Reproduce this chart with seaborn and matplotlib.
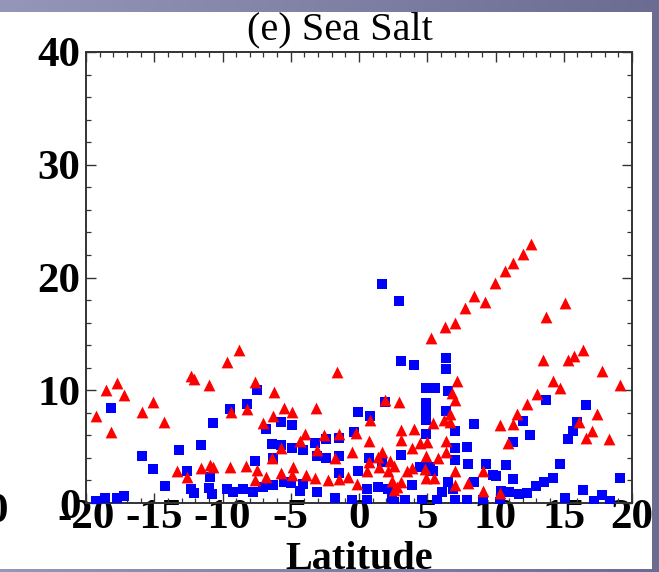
import numpy as np
import matplotlib
matplotlib.use("Agg")
import matplotlib.pyplot as plt
from matplotlib.patches import Rectangle
from matplotlib.ticker import MultipleLocator
import pandas as pd
import seaborn as sns

# red triangles (latitude, value)
tri_lat = [-19.3, -18.55, -17.7, -17.2, -18.2, -15.9, -15.1, -14.3, -12.3, -12.1, -11.0,
           -13.3, -12.6, -11.6, -10.9, -10.7,
           -8.8, -9.65, -7.6, -6.2, -1.6, -9.4, -8.2, -5.5, -4.9, -3.15, -7.0, -6.3,
           -3.95, -4.3, -2.6, -1.5, -0.2, -5.7, -3.05, -1.75, -0.5, -6.4, -9.45, -8.3,
           -7.45, -7.6, -6.8, -5.7, -4.85, -4.9, -3.9, -3.2, -2.3, -1.5, -0.8, -0.15,
           7.2, 6.8, 7.0, 1.9, 2.9, 0.8, 0.7, 3.1, 4.0, 5.4, 6.25, 6.7, 6.7, 3.1, 3.9,
           4.5, 5.0, 6.35, 6.35, 4.9, 5.8, 1.65, 1.4, 0.7, 0.6, 1.45, 2.3, 2.6, 2.15,
           3.55, 3.9, 4.8, 4.9, 5.5, 7.0, 9.1, 2.4, 3.1, 2.75, 2.6, 7.0, 8.0, 9.1,
           12.6, 12.0, 11.26, 10.7, 9.96, 8.4, 9.2, 7.8, 7.05, 6.3, 5.3, 13.7, 15.1,
           13.45, 15.3, 15.75, 16.4, 17.8, 19.1, 14.2, 14.7, 13.05, 12.3, 11.6, 11.3,
           10.3, 10.9, 17.4, 16.1, 17.05, 16.6, 18.3, 10.3]
tri_val = [7.7, 10.0, 10.6, 9.6, 6.3, 8.1, 9.0, 7.2, 11.3, 11.0, 10.5,
           2.8, 2.3, 3.1, 3.4, 3.2,
           13.6, 12.5, 10.7, 9.85, 11.6, 8.1, 8.3, 8.4, 8.1, 8.4, 7.1, 7.7,
           6.1, 5.5, 6.0, 6.1, 6.2, 4.9, 4.7, 4.0, 4.5, 4.0, 3.2, 3.3,
           2.9, 2.05, 2.35, 2.7, 3.15, 2.5, 2.5, 2.25, 2.05, 2.15, 2.35, 1.7,
           10.8, 9.8, 9.1, 9.1, 9.0, 7.4, 5.5, 6.5, 6.6, 7.1, 7.4, 7.2, 7.9, 5.6, 4.9,
           5.3, 5.4, 5.5, 4.5, 4.2, 4.0, 4.5, 4.1, 3.6, 2.85, 3.15, 3.75, 3.3, 2.8,
           2.8, 3.1, 3.0, 2.25, 2.25, 2.85, 2.8, 1.96, 1.9, 1.45, 1.16, 1.6, 1.76, 1.1,
           23.0, 22.05, 21.3, 20.6, 19.5, 18.4, 17.8, 17.3, 16.0, 15.6, 14.6, 16.5, 17.7,
           12.7, 12.7, 13.0, 13.6, 11.7, 10.5, 10.8, 10.2, 9.7, 8.75, 7.9, 7.0,
           6.9, 5.3, 7.9, 7.2, 6.4, 5.8, 5.7, 0.9]

# blue squares (latitude, value)
sq_lat = [-18.2, -19.3, -18.6, -17.7, -17.2, -15.9, -15.1, -14.2, -13.2, -12.6, -12.3,
          -12.1, -11.6, -10.7, -10.9, -11.0, -10.8,
          -7.45, -9.45, -8.2, -6.8, -5.7, -4.9, -0.1, -6.4, -5.7, -4.9, -4.1, -3.2,
          -2.4, -1.5, -0.4, -3.1, -2.4, -1.5, -6.3, -7.6, -0.1, -1.5, -9.7, -9.2,
          -8.5, -7.75, -7.0, -6.3, -5.5, -5.0, -4.3, -4.1, -3.05, -1.75, -0.5,
          3.1, 4.0, 6.35, 6.35, 4.9, 5.6, 6.5, 1.9, 4.9, 4.9, 4.9, 6.35, 0.8, 8.4,
          7.0, 4.9, 7.0, 7.9, 3.1, 0.7, 1.65, 7.0, 8.0, 9.3, 4.5, 5.2, 5.4, 3.9, 0.6,
          1.4, 2.15, 6.1, 6.9, 6.5, 8.4, 9.85, 0.6, 2.45, 2.6, 3.4, 4.6, 5.7, 7.0,
          7.9, 9.1,
          1.66, 2.95, 13.7, 16.6, 16.0, 12.5, 12.0, 11.3, 15.65, 15.3, 14.7, 14.2,
          13.55, 13.0, 12.3, 11.7, 11.0, 10.4, 10.0, 10.8, 11.3, 16.4, 15.1, 17.8,
          17.2, 18.4, 19.1, 10.3]
sq_val = [8.4, 0.2, 0.4, 0.4, 0.65, 4.2, 3.0, 1.5, 4.7, 2.8, 1.2,
          0.9, 5.1, 7.1, 2.3, 1.3, 0.8,
          10.0, 8.3, 8.75, 6.6, 7.2, 6.9, 8.1, 5.2, 5.1, 4.9, 4.7, 5.3,
          5.7, 5.8, 6.3, 4.2, 4.0, 4.2, 4.0, 3.7, 2.8, 2.7, 1.2, 1.0,
          1.2, 1.0, 1.45, 1.6, 1.9, 1.75, 1.07, 1.7, 1.0, 0.4, 0.25,
          12.6, 12.2, 12.9, 11.9, 10.2, 10.2, 9.9, 9.0, 8.9, 8.15, 7.4, 8.15, 7.7, 7.0,
          6.4, 6.1, 4.9, 5.0, 4.3, 4.0, 3.6, 3.8, 3.5, 3.5, 3.2, 3.2, 2.85, 1.6, 1.25,
          1.45, 1.25, 1.0, 1.25, 1.9, 1.9, 2.5, 0.27, 0.4, 0.1, 0.27, 0.27, 0.27, 0.27,
          0.27, 0.27,
          19.4, 17.9, 9.1, 8.7, 7.2, 6.0, 7.25, 5.4, 6.4, 5.7, 3.5, 2.2,
          1.9, 1.5, 0.9, 0.8, 1.0, 1.1, 2.4, 3.4, 2.1, 1.16, 0.4, 0.7,
          0.15, 0.15, 2.25, 0.1]

x_ticks = [-20, -15, -10, -5, 0, 5, 10, 15, 20]
y_ticks = [0, 10, 20, 30, 40]

df_sq = pd.DataFrame({"Latitude": sq_lat, "Value": sq_val})
df_tri = pd.DataFrame({"Latitude": tri_lat, "Value": tri_val})

sns.set_style("ticks")
plt.rcParams["font.family"] = ["Liberation Serif", "DejaVu Serif"]
plt.rcParams["axes.unicode_minus"] = False
plt.rcParams["text.color"] = "black"

W, H = 659, 572
fig = plt.figure(figsize=(W / 100, H / 100), dpi=100)

# slide background: purple gradient frame with white panel
bg = fig.add_axes([0, 0, 1, 1], zorder=-10)
grad = np.linspace(0, 1, 256)
c0 = np.array([150, 150, 186]) / 255
c1 = np.array([108, 108, 146]) / 255
img = (c0[None, :] * (1 - grad[:, None]) + c1[None, :] * grad[:, None])[None, :, :]
bg.imshow(img, aspect="auto", extent=[0, 1, 0, 1])
bg.add_patch(Rectangle((0, 3 / H), 652 / W, (H - 12 - 3) / H, color="white", lw=0))
bg.set_xlim(0, 1)
bg.set_ylim(0, 1)
bg.axis("off")

ax = fig.add_axes([86 / W, 1 - 503 / H, (632 - 86) / W, (503 - 52) / H])
ax.set_facecolor("white")

sns.scatterplot(data=df_sq, x="Latitude", y="Value", marker="s", color="#0000ff",
                s=50, linewidth=0, ax=ax, zorder=3)
sns.scatterplot(data=df_tri, x="Latitude", y="Value", marker="^", color="#ff0000",
                s=72, linewidth=0, ax=ax, zorder=4)

ax.set_xlim(-20, 20)
ax.set_ylim(0, 40)
ax.set_xticks(x_ticks)
ax.set_yticks(y_ticks)
ax.xaxis.set_minor_locator(MultipleLocator(1))
ax.yaxis.set_minor_locator(MultipleLocator(2))
ax.tick_params(which="both", direction="in", top=True, right=True, color="#333333",
               labelcolor="black")
ax.tick_params(which="major", length=7.5, width=1.0)
ax.tick_params(which="minor", length=3.8, width=0.9)
ax.tick_params(axis="x", which="major", labelsize=31, pad=-3)
ax.tick_params(axis="y", which="major", labelsize=31, pad=4)
for lab in ax.get_xticklabels() + ax.get_yticklabels():
    lab.set_fontweight("bold")
for sp in ax.spines.values():
    sp.set_color("#333333")
    sp.set_linewidth(1.4)
ax.set_xlabel("")
ax.set_ylabel("")

fig.text(340 / W, 1 - 30 / H, "(e) Sea Salt", fontsize=29, ha="center", va="center")
fig.text(359 / W, 1 - 569 / H, "Latitude", fontsize=29, fontweight="bold",
         ha="center", va="baseline")
# cut-off label of the neighbouring panel
fig.text(8 / W, 1 - 512 / H, "0", fontsize=31, fontweight="bold", ha="right", va="center")

fig.savefig("out.png", dpi=100)
